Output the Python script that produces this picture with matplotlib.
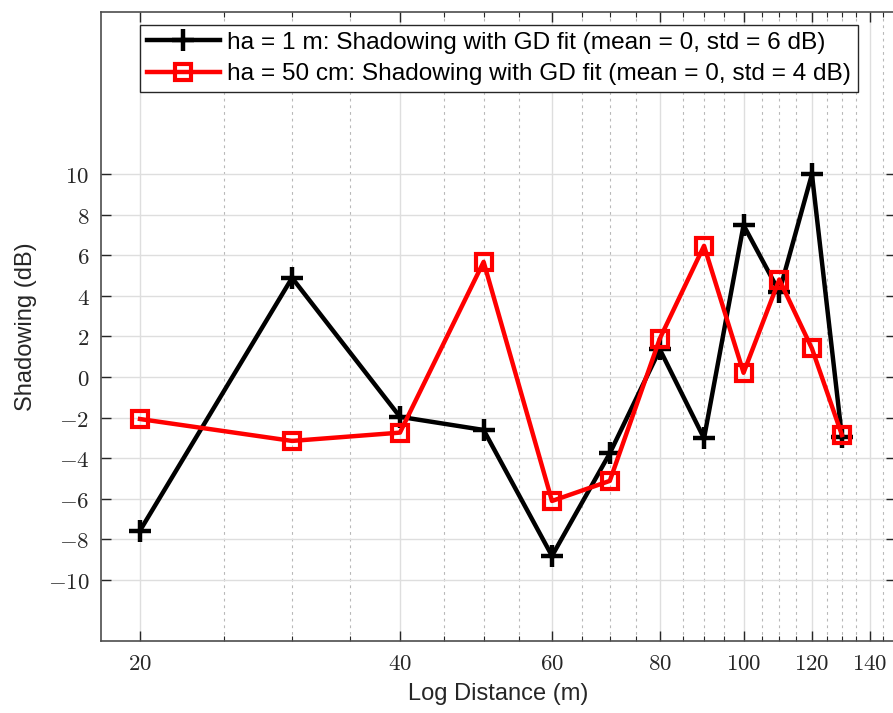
import matplotlib
matplotlib.use("Agg")
import matplotlib.pyplot as plt
import numpy as np
from matplotlib.ticker import FixedLocator, NullFormatter

plt.rcParams['mathtext.fontset'] = 'cm'

distance = [20, 30, 40, 50, 60, 70, 80, 90, 100, 110, 120, 130]
shadow_1m = [-7.57, 4.89, -1.96, -2.61, -8.82, -3.76, 1.36, -3.02, 7.49, 4.2, 10.0, -2.95]
shadow_50cm = [-2.07, -3.15, -2.74, 5.68, -6.11, -5.12, 1.9, 6.47, 0.21, 4.81, 1.41, -2.86]

label_1m = "ha = 1 m: Shadowing with GD fit (mean = 0, std = 6 dB)"
label_50cm = "ha = 50 cm: Shadowing with GD fit (mean = 0, std = 4 dB)"

x_major = [20, 40, 60, 80, 100, 120, 140]
x_minor = [v for v in range(25, 150, 5) if v not in x_major]
y_major = [-10, -8, -6, -4, -2, 0, 2, 4, 6, 8, 10]

W, H = 893, 713
fig = plt.figure(figsize=(W / 100, H / 100), dpi=100)
left, right, top, bottom = 100.5, 895.6, 12, 640.7
ax = fig.add_axes([left / W, 1 - bottom / H, (right - left) / W, (bottom - top) / H])

ax.set_xscale('log')
ax.set_xlim(18, 150)
ax.set_ylim(-13, 18)

ax.plot(distance, shadow_1m, color='black', lw=3.2, marker='+', ms=16, mew=3.2,
        label=label_1m, zorder=3)
ax.plot(distance, shadow_50cm, color='#ff0000', lw=3.2, marker='s', ms=12, mew=3.0,
        mfc='none', mec='#ff0000', label=label_50cm, zorder=4)

ax.xaxis.set_major_locator(FixedLocator(x_major))
ax.xaxis.set_minor_locator(FixedLocator(x_minor))
ax.xaxis.set_minor_formatter(NullFormatter())
ax.set_xticklabels([f"${v}$" for v in x_major])
ax.yaxis.set_major_locator(FixedLocator(y_major))
ax.yaxis.set_minor_locator(FixedLocator([]))
ax.set_yticklabels([f"${v}$" for v in y_major])

ax.tick_params(which='both', direction='in', top=True, right=True, colors='#262626',
               labelcolor='#262626')
ax.tick_params(which='major', length=7, width=1.0, labelsize=16.5, pad=8)
ax.tick_params(which='minor', length=3.5, width=0.8)

ax.grid(which='major', color='#dedede', lw=1.0, ls='-', zorder=0)
ax.grid(which='minor', axis='x', color='#b8b8b8', lw=0.8, ls=(0, (2.5, 3.5)), zorder=0)
ax.set_axisbelow(True)

for s in ax.spines.values():
    s.set_color('#4d4d4d')
    s.set_linewidth(1.2)

ax.set_xlabel('Log Distance (m)', fontfamily='Liberation Sans', fontsize=17,
              color='#262626', labelpad=6)
ax.set_ylabel('Shadowing (dB)', fontfamily='Liberation Sans', fontsize=17,
              color='#262626', labelpad=8)

leg = ax.legend(loc='upper left', bbox_to_anchor=(140 / W, 1 - 25 / H),
                bbox_transform=fig.transFigure, borderaxespad=0,
                prop={'family': 'Liberation Sans', 'size': 17.6},
                handlelength=3.0, handletextpad=0.3, borderpad=0.27,
                labelspacing=0.38, fancybox=False, framealpha=1,
                edgecolor='#262626')
leg.get_frame().set_linewidth(1.0)

fig.savefig('out.png', dpi=100)
